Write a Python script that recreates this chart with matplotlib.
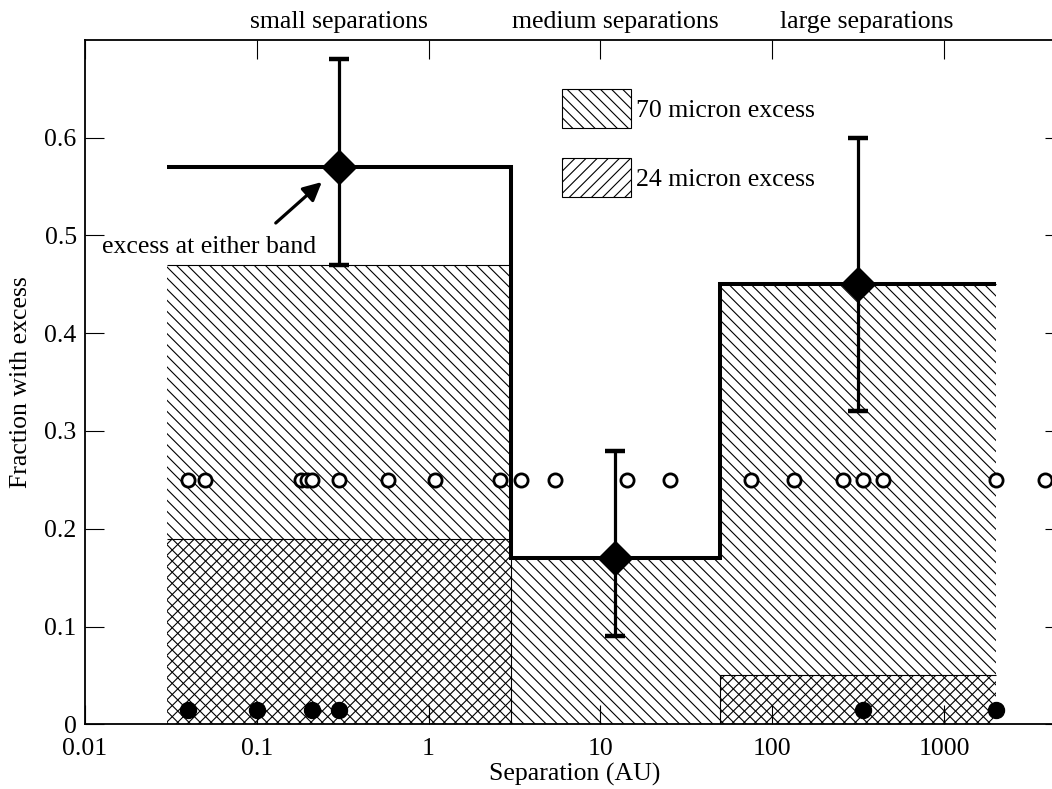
import numpy as np
import matplotlib
matplotlib.use('Agg')
import matplotlib.pyplot as plt
from matplotlib.patches import Patch
from matplotlib.ticker import FixedLocator, FixedFormatter, NullLocator
import matplotlib.transforms as mtransforms

plt.rcParams['font.family'] = ['Liberation Serif', 'DejaVu Serif']
plt.rcParams['hatch.linewidth'] = 0.8

# ---------------- data ----------------
bin_edges = [0.03, 3, 50, 2000]
bin_names = ['small separations', 'medium separations', 'large separations']
frac_70 = [0.47, 0.17, 0.45]          # 70 micron excess fraction
frac_24 = [0.19, 0.0, 0.05]           # 24 micron excess fraction
frac_either = [0.57, 0.17, 0.45]      # excess at either band
either_x = [0.3, 12.2, 316]
either_hi = [0.68, 0.28, 0.60]
either_lo = [0.47, 0.09, 0.32]
name_x = [0.3, 12.2, 355]

sep_all = [0.040, 0.050, 0.18, 0.195, 0.21, 0.30, 0.58, 1.09, 2.6, 3.43,
           5.47, 14.2, 25.6, 75.5, 134, 260, 336, 440, 2000, 3855]
all_level = 0.25
sep_excess = [0.040, 0.10, 0.21, 0.30, 336, 2000]
excess_level = 0.015

xticks = [0.01, 0.1, 1, 10, 100, 1000]
xticklabels = ['0.01', '0.1', '1', '10', '100', '1000']
yticks = [0, 0.1, 0.2, 0.3, 0.4, 0.5, 0.6]
yticklabels = ['0', '0.1', '0.2', '0.3', '0.4', '0.5', '0.6']

FS = 18.5
W, H = 1052, 789
fig = plt.figure(figsize=(W / 100, H / 100), dpi=100)
ax = fig.add_axes([85 / W, (H - 724.3) / H, (1064 - 85) / W, (724.3 - 39.9) / H])

ax.set_xscale('log')
ax.set_xlim(0.01, 5000)
ax.set_ylim(0, 0.7)

edges = np.array(bin_edges, dtype=float)
def stepvals(v):
    v = np.asarray(v, dtype=float)
    return np.append(v, v[-1])

H70 = '\\\\\\'
H24 = '///'
ax.fill_between(edges, stepvals(frac_70), 0, step='post', facecolor='none',
                edgecolor='black', hatch=H70, linewidth=0, zorder=1)
ax.fill_between(edges, stepvals(frac_24), 0, step='post', facecolor='none',
                edgecolor='black', hatch=H24, linewidth=0, zorder=1)
ax.stairs(frac_70, edges, baseline=None, color='black', lw=0.8, zorder=2)
ax.stairs(frac_24, edges, baseline=None, color='black', lw=0.8, zorder=2)
ax.stairs(frac_either, edges, baseline=None, color='black', lw=2.9, zorder=3)

fe = np.array(frac_either)
yerr = [fe - np.array(either_lo), np.array(either_hi) - fe]
ax.errorbar(either_x, frac_either, yerr=yerr, fmt='D', ms=17, color='black',
            elinewidth=2.3, capsize=7, capthick=3.2, zorder=5)

ax.plot(sep_all, np.full(len(sep_all), all_level), 'o', ms=9.5, mfc='white',
        mec='black', mew=2, zorder=6, clip_on=False)
ax.plot(sep_excess, np.full(len(sep_excess), excess_level), 'o', ms=11.5,
        color='black', zorder=6)

# axes styling
ax.xaxis.set_major_locator(FixedLocator(xticks))
ax.xaxis.set_major_formatter(FixedFormatter(xticklabels))
ax.xaxis.set_minor_locator(NullLocator())
ax.yaxis.set_major_locator(FixedLocator(yticks))
ax.yaxis.set_major_formatter(FixedFormatter(yticklabels))
ax.yaxis.set_minor_locator(NullLocator())
ax.tick_params(direction='in', length=13.5, width=0.8, top=True, right=True,
               labelsize=FS)
ax.tick_params(axis='x', pad=10)
ax.tick_params(axis='y', pad=6)
for s in ax.spines.values():
    s.set_linewidth(1.3)

ax.set_xlabel('Separation (AU)', fontsize=FS, labelpad=2)
ax.set_ylabel('Fraction with excess', fontsize=FS, labelpad=9)

# top category labels
trans = mtransforms.blended_transform_factory(ax.transData, ax.transAxes)
for xc, name in zip(name_x, bin_names):
    ax.text(xc, 1 + 18 / 684.4, name, transform=trans, ha='center', va='center',
            fontsize=FS)

# legend
handles = [Patch(facecolor='white', edgecolor='black', hatch=H70, lw=0.8,
                 label='70 micron excess'),
           Patch(facecolor='white', edgecolor='black', hatch=H24, lw=0.8,
                 label='24 micron excess')]
fs_px = FS * 100 / 72
ax.legend(handles=handles, loc='upper left',
          bbox_to_anchor=(561.7 / W, 1 - 89.3 / H), bbox_transform=fig.transFigure,
          frameon=False, fontsize=FS, borderpad=0, borderaxespad=0,
          handlelength=69 / fs_px, handleheight=1.95,
          labelspacing=30 / fs_px, handletextpad=0.2)

# annotation
ax.annotate('', xy=(either_x[0], frac_either[0]), xytext=(-63, -56),
            textcoords='offset pixels',
            arrowprops=dict(arrowstyle='-|>,head_length=0.7,head_width=0.35',
                            mutation_scale=16, color='black', lw=2.3,
                            shrinkA=0, shrinkB=16.3), zorder=7)
ax.annotate('excess at either band', xy=(either_x[0], frac_either[0]),
            xytext=(101.7 - 338.3, -(247 - 167.3)), textcoords='offset pixels',
            ha='left', va='center', fontsize=FS, zorder=7)

fig.savefig('out.png', dpi=100)
